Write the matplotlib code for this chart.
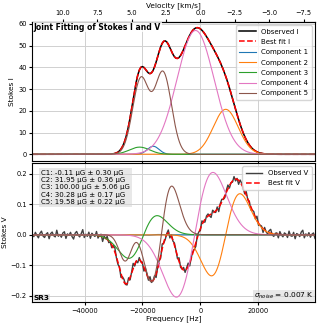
import numpy as np
import matplotlib
matplotlib.use('Agg')
import matplotlib.pyplot as plt
from matplotlib.ticker import FixedLocator

# ---------------- data ----------------
F0 = 1420.405751e6      # rest frequency [Hz]
C_KMS = 299792.458

# Stokes I Gaussian components: amplitude, centre [Hz], sigma [Hz]
comp1_I = [(3.7, -16300, 2000)]
comp2_I = [(20.7, 8700, 4300)]
comp3_I = [(3.3, -21000, 3500)]
comp4_I = [(57.0, -1700, 6400)]
comp5_I = [(34.5, -20600, 2800), (37.5, -12900, 2900)]

# Stokes V component terms: (kind, amplitude, centre [Hz], sigma [Hz])
# 'd' = derivative-of-Gaussian shaped term, 'g' = Gaussian term
comp1_V = [('d', 0.001, -16300, 2000)]
comp2_V = [('d', 0.135, 8700, 4900)]
comp3_V = [('d', 0.07, -20100, 4900), ('g', -0.012, -20100, 4900)]
comp4_V = [('d', 0.205, -2000, 6300)]
comp5_V = [('d', 0.16, -13500, 3600), ('g', -0.088, -25900, 2100),
           ('g', 0.03, -21300, 2300)]

velocity_ticks = [10.0, 7.5, 5.0, 2.5, 0.0, -2.5, -5.0, -7.5]

B_labels = ["C1: -0.11 µG ± 0.30 µG",
            "C2: 31.95 µG ± 0.36 µG",
            "C3: 100.00 µG ± 5.06 µG",
            "C4: 30.28 µG ± 0.17 µG",
            "C5: 19.58 µG ± 0.22 µG"]

# residual noise of the observed Stokes V spectrum, in units of 0.001
V_noise = [3,-6,8,-2,-10,5,12,-4,-9,2,7,-13,4,9,-3,-7,15,-5,1,-8,6,10,-12,3,-2,8,-6,-14,5,11,-1,-7,4,17,-9,2,-5,9,-11,6,
           0,-4,13,-8,3,7,-15,5,-1,10,-6,2,-9,8,14,-3,-7,4,-12,6,
           9,-2,-5,11,-8,3,16,-6,1,-10,7,-3,5,-13,9,2,-7,12,-4,-1,
           8,-11,4,6,-9,15,-2,-6,3,10,-14,5,-3,7,1,-8,12,-5,-2,9,
           -7,4,11,-10,2,6,-4,-12,8,3,-6,13,-1,-9,5,7,-3,-11,10,2,
           -5,8,-14,4,9,-2,-7,6,12,-8,1,-4,10,-6,3,-13,7,5,-1,-9,
           11,-3,6,-10,2,8,-5,14,-7,0,4,-12,9,-2,-6,7,13,-4,-8,3,
           5,-11,10,-1,-7,6,2,-9,12,-3,-5,8,-13,4,1,-6,9,15,-10,3,-4,7,-8,2,6,-12]

comp_names = ["Component 1", "Component 2", "Component 3", "Component 4", "Component 5"]
comp_colors = ["tab:blue", "tab:orange", "tab:green", "tab:pink", "tab:brown"]

freq = np.linspace(-58000, 39500, len(V_noise))
fine = np.linspace(-58000, 39500, 1200)


def gauss(x, a, c, s):
    return a * np.exp(-(x - c) ** 2 / (2 * s ** 2))


def I_curve(x, terms):
    return sum(gauss(x, a, c, s) for a, c, s in terms)


def V_curve(x, terms):
    out = np.zeros_like(x, dtype=float)
    for kind, a, c, s in terms:
        if kind == 'd':
            out += a * (x - c) / s * np.exp(0.5 - (x - c) ** 2 / (2 * s ** 2))
        else:
            out += gauss(x, a, c, s)
    return out


I_comps = [comp1_I, comp2_I, comp3_I, comp4_I, comp5_I]
V_comps = [comp1_V, comp2_V, comp3_V, comp4_V, comp5_V]

# ---------------- figure ----------------
fig = plt.figure(figsize=(3.19, 3.26), dpi=100)
ax1 = fig.add_axes([0.1013, 0.5074, 0.8862, 0.4251])
ax2 = fig.add_axes([0.1013, 0.0736, 0.8862, 0.4264], sharex=ax1)

TICK = 4.8
LAB = 5.3

fitI = sum(I_curve(fine, t) for t in I_comps)
obsI = sum(I_curve(freq, t) for t in I_comps)
ax1.plot(freq, obsI, color='black', lw=1.1, label='Observed I')
ax1.plot(fine, fitI, color='red', ls='--', lw=1.1, label='Best fit I')
for t, n, c in zip(I_comps, comp_names, comp_colors):
    ax1.plot(fine, I_curve(fine, t), color=c, lw=0.8, label=n)

ax1.set_ylim(-2.9, 60.9)
ax1.set_ylabel('Stokes I', fontsize=LAB, labelpad=2)
ax1.grid(True, color='#d0d0d0', lw=0.7)
ax1.tick_params(labelsize=TICK, length=2.5, pad=1.5)
ax1.tick_params(axis='x', labelbottom=False)
ax1.legend(loc='upper right', fontsize=5.0, handlelength=2.4, borderpad=0.45,
           labelspacing=0.62, handletextpad=0.8)
ax1.text(0.005, 0.995, 'Joint Fitting of Stokes I and V', transform=ax1.transAxes,
         fontsize=5.5, fontweight='bold', va='top', ha='left',
         bbox=dict(facecolor='white', alpha=0.8, edgecolor='none', pad=0.5))

sec = ax1.secondary_xaxis('top', functions=(lambda f: -f / F0 * C_KMS,
                                            lambda v: -v * F0 / C_KMS))
sec.xaxis.set_major_locator(FixedLocator(velocity_ticks))
sec.set_xlabel('Velocity [km/s]', fontsize=LAB, labelpad=2)
sec.tick_params(labelsize=TICK, length=2.5, pad=1.5)

fitV = sum(V_curve(fine, t) for t in V_comps)
obsV = sum(V_curve(freq, t) for t in V_comps) + np.array(V_noise) * 0.001
ax2.plot(freq, obsV, color='black', lw=1.0, label='Observed V', alpha=0.75)
ax2.plot(fine, fitV, color='red', ls='--', lw=1.1, label='Best fit V')
for t, c in zip(V_comps, comp_colors):
    ax2.plot(fine, V_curve(fine, t), color=c, lw=0.8)

ax2.set_xlim(-58000, 39500)
ax2.set_ylim(-0.221, 0.236)
ax2.set_ylabel('Stokes V', fontsize=LAB, labelpad=2)
ax2.set_xlabel('Frequency [Hz]', fontsize=LAB, labelpad=1.5)
ax2.grid(True, color='#d0d0d0', lw=0.7)
ax2.tick_params(labelsize=TICK, length=2.5, pad=1.5)
ax2.legend(loc='upper right', fontsize=5.0, handlelength=2.4, borderpad=0.5,
           labelspacing=0.62, handletextpad=0.8)

ax2.text(0.03, 0.95, "\n".join(B_labels), transform=ax2.transAxes,
         fontsize=5.0, va='top', ha='left', linespacing=1.25,
         bbox=dict(facecolor='lightgray', alpha=0.5, edgecolor='none', pad=1.5))
ax2.text(0.004, 0.008, 'SR3', transform=ax2.transAxes, fontsize=5.3,
         fontweight='bold', va='bottom', ha='left',
         bbox=dict(facecolor='lightgray', alpha=0.5, edgecolor='none', pad=0.5))
ax2.text(0.996, 0.008, r'$\sigma_{noise}$ = 0.007 K', transform=ax2.transAxes,
         fontsize=5.3, va='bottom', ha='right',
         bbox=dict(facecolor='lightgray', alpha=0.5, edgecolor='none', pad=0.5))

fig.savefig('out.png', dpi=100)
